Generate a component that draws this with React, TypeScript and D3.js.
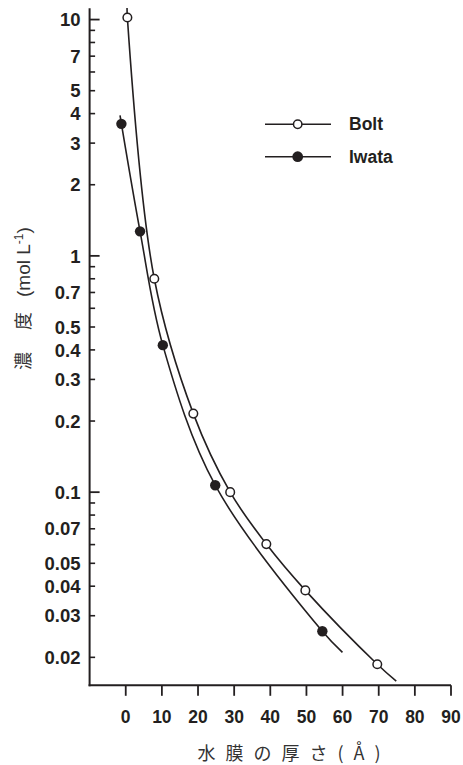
import React from "react";
import * as d3 from "d3";

// Measured points (x: water film thickness in Å, y: concentration in mol/L)
const boltX = [0.45, 7.9, 18.7, 28.9, 38.9, 49.7, 69.6];
const boltY = [10.2, 0.8, 0.215, 0.1, 0.0603, 0.0384, 0.0187];
const iwataX = [-1.2, 3.96, 10.26, 24.76, 54.4];
const iwataY = [3.62, 1.27, 0.419, 0.107, 0.0258];

// Nodes of the fitted curves (extend slightly past the measured points)
const boltLineX = [0.36, 0.45, 7.9, 18.7, 28.9, 38.9, 49.7, 69.6, 74.85];
const boltLineY = [11.2, 10.2, 0.8, 0.215, 0.1, 0.0603, 0.0384, 0.0187, 0.01585];
const iwataLineX = [-1.58, -1.2, 3.96, 10.26, 24.76, 54.4, 59.97];
const iwataLineY = [3.93, 3.62, 1.27, 0.419, 0.107, 0.0258, 0.021];

const xTicks = [0, 10, 20, 30, 40, 50, 60, 70, 80, 90];
const yLabelTicks = [10, 7, 5, 4, 3, 2, 1, 0.7, 0.5, 0.4, 0.3, 0.2, 0.1, 0.07, 0.05, 0.04, 0.03, 0.02];
const yMajorTicks = [10, 1, 0.1];
const yMinorTicks = [9, 8, 7, 6, 5, 4, 3, 2, 0.9, 0.8, 0.7, 0.6, 0.5, 0.4, 0.3, 0.2, 0.09, 0.08, 0.07, 0.06, 0.05, 0.04, 0.03, 0.02];

const seriesNames = ["Bolt", "Iwata"];

const W = 463;
const H = 765;
const INK = "#231f20";

export default function App() {
  const x = d3.scaleLinear().domain([-10, 90]).range([89.6, 451]);
  const y = d3.scaleLog().domain([0.01523, 11.16]).range([685.3, 8.3]);

  const line = d3
    .line<[number, number]>()
    .x((d) => x(d[0]))
    .y((d) => y(d[1]))
    .curve(d3.curveCatmullRom.alpha(0.5));

  const boltPath = line(boltLineX.map((v, i) => [v, boltLineY[i]]) as [number, number][]) || "";
  const iwataPath = line(iwataLineX.map((v, i) => [v, iwataLineY[i]]) as [number, number][]) || "";

  const x0 = x.range()[0];
  const yBottom = y.range()[0];
  const yTop = y.range()[1];
  const fmt = (v: number) => String(v);

  return (
    <svg
      width={W}
      height={H}
      style={{ position: "absolute", left: 0, top: 0, background: "#fff" }}
      fontFamily="'Liberation Sans', Arial, sans-serif"
    >
      <rect width={W} height={H} fill="#fff" />

      {/* axes */}
      <line x1={x0} x2={x0} y1={yTop} y2={yBottom + 1} stroke={INK} strokeWidth={2} />
      <line x1={x0 - 1} x2={x.range()[1]} y1={yBottom} y2={yBottom} stroke={INK} strokeWidth={2} />

      {/* y ticks (inward) */}
      {yMinorTicks.map((t) => (
        <line key={"mi" + t} x1={x0} x2={x0 + 5.5} y1={y(t)} y2={y(t)} stroke={INK} strokeWidth={1.6} />
      ))}
      {yMajorTicks.map((t) => (
        <line key={"ma" + t} x1={x0} x2={x0 + 10} y1={y(t)} y2={y(t)} stroke={INK} strokeWidth={1.8} />
      ))}
      {yLabelTicks.map((t) => (
        <text
          key={"yl" + t}
          x={80.5}
          y={y(t)}
          dy="0.36em"
          textAnchor="end"
          fontSize={18.5}
          fontWeight="bold"
          fill={INK}
        >
          {fmt(t)}
        </text>
      ))}

      {/* x ticks (outward) */}
      {xTicks.map((t) => (
        <g key={"xt" + t}>
          <line x1={x(t)} x2={x(t)} y1={yBottom} y2={yBottom + 10.5} stroke={INK} strokeWidth={1.8} />
          <text x={x(t)} y={723.3} textAnchor="middle" fontSize={17.5} fontWeight="bold" fill={INK}>
            {fmt(t)}
          </text>
        </g>
      ))}

      {/* axis titles */}
      <text
        x={294}
        y={760}
        textAnchor="middle"
        fontSize={18}
        letterSpacing={10}
        fill="#333"
        fontFamily="'Noto Sans CJK JP', 'Liberation Sans', sans-serif"
      >
        水膜の厚さ(Å)
      </text>
      <g transform="translate(30,370) rotate(-90)">
        <text fontSize={19} fill="#333" fontFamily="'Liberation Sans', 'Noto Sans CJK JP', sans-serif">
          <tspan x={0} fontFamily="'Noto Sans CJK JP', sans-serif" fontSize={18}>濃</tspan>
          <tspan x={40} fontFamily="'Noto Sans CJK JP', sans-serif" fontSize={18}>度</tspan>
          <tspan x={73}>(mol L</tspan>
          <tspan dy={-7} fontSize={12}>-1</tspan>
          <tspan dy={7}>)</tspan>
        </text>
      </g>

      {/* fitted curves */}
      <path d={boltPath} fill="none" stroke={INK} strokeWidth={1.6} />
      <path d={iwataPath} fill="none" stroke={INK} strokeWidth={1.6} />

      {/* markers */}
      {boltX.map((v, i) => (
        <circle key={"b" + i} cx={x(v)} cy={y(boltY[i])} r={4.3} fill="#fff" stroke={INK} strokeWidth={1.5} />
      ))}
      {iwataX.map((v, i) => (
        <circle key={"w" + i} cx={x(v)} cy={y(iwataY[i])} r={5.2} fill={INK} />
      ))}

      {/* legend */}
      {seriesNames.map((name, i) => {
        const ly = i === 0 ? 124.3 : 156.7;
        return (
          <g key={name}>
            <line x1={265} x2={331} y1={ly} y2={ly} stroke={INK} strokeWidth={1.6} />
            {i === 0 ? (
              <circle cx={297.7} cy={ly} r={4.2} fill="#fff" stroke={INK} strokeWidth={1.5} />
            ) : (
              <circle cx={297.7} cy={ly} r={5.4} fill={INK} />
            )}
            <text x={349} y={ly + 5.8} fontSize={17.5} fontWeight="bold" fill={INK}>
              {name}
            </text>
          </g>
        );
      })}
    </svg>
  );
}
